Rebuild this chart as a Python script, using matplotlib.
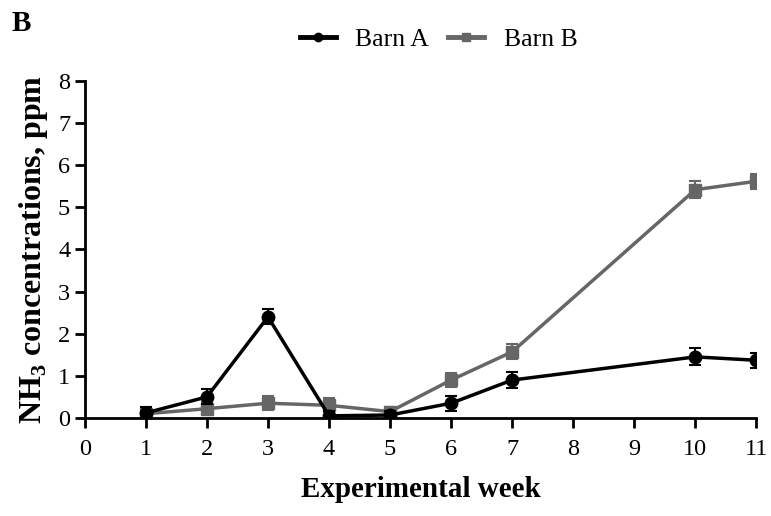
import matplotlib
matplotlib.use("Agg")
import matplotlib.pyplot as plt
from matplotlib.lines import Line2D

weeks = [1, 2, 3, 4, 5, 6, 7, 10, 11]
barn_a = [0.12, 0.50, 2.40, 0.05, 0.07, 0.35, 0.90, 1.45, 1.37]
barn_a_err = [0.15, 0.18, 0.18, 0.12, 0.10, 0.18, 0.20, 0.20, 0.18]
barn_b = [0.10, 0.22, 0.35, 0.30, 0.15, 0.90, 1.57, 5.42, 5.62]
barn_b_err = [0.12, 0.15, 0.17, 0.17, 0.12, 0.17, 0.18, 0.20, 0.18]

plt.rcParams["font.family"] = ["Liberation Serif", "DejaVu Serif"]
plt.rcParams["mathtext.fontset"] = "custom"
plt.rcParams["mathtext.bf"] = "Liberation Serif:bold"
plt.rcParams["mathtext.rm"] = "Liberation Serif"

fig = plt.figure(figsize=(7.71, 5.16), dpi=100)
ax = fig.add_axes([0.110, 0.19, 0.871, 0.653])

ax.errorbar(weeks, barn_a, yerr=barn_a_err, color="black", marker="o", ms=9,
            lw=2.5, capsize=4.5, elinewidth=1.5, capthick=1.5, zorder=3)
ax.errorbar(weeks, barn_b, yerr=barn_b_err, color="#666666", marker="s", ms=8,
            lw=2.5, capsize=4.5, elinewidth=1.5, capthick=1.5, zorder=2)

ax.set_xlim(0, 11)
ax.set_ylim(0, 8)
ax.set_xticks(range(0, 12))
ax.set_yticks(range(0, 9))
for s in ["top", "right"]:
    ax.spines[s].set_visible(False)
for s in ["left", "bottom"]:
    ax.spines[s].set_linewidth(2)
ax.tick_params(width=2, length=7, labelsize=17.5, direction="out")
ax.tick_params(axis="x", pad=8)
ax.set_xlabel("Experimental week", fontsize=21, fontweight="bold", labelpad=12)
ax.set_ylabel(r"NH$_\mathbf{3}$ concentrations, ppm", fontsize=23, fontweight="bold", labelpad=6)

handles = [
    Line2D([], [], color="black", marker="o", ms=6, lw=3.5),
    Line2D([], [], color="#666666", marker="s", ms=6, lw=3.5),
]
fig.legend(handles, ["Barn A", "Barn B"], loc="center", bbox_to_anchor=(0.569, 0.924),
           ncol=2, frameon=False, fontsize=18.5, handlelength=1.4,
           handletextpad=0.75, columnspacing=0.75)
fig.text(0.015, 0.955, "B", fontsize=21, fontweight="bold", va="center")

fig.savefig("out.png", dpi=100)
